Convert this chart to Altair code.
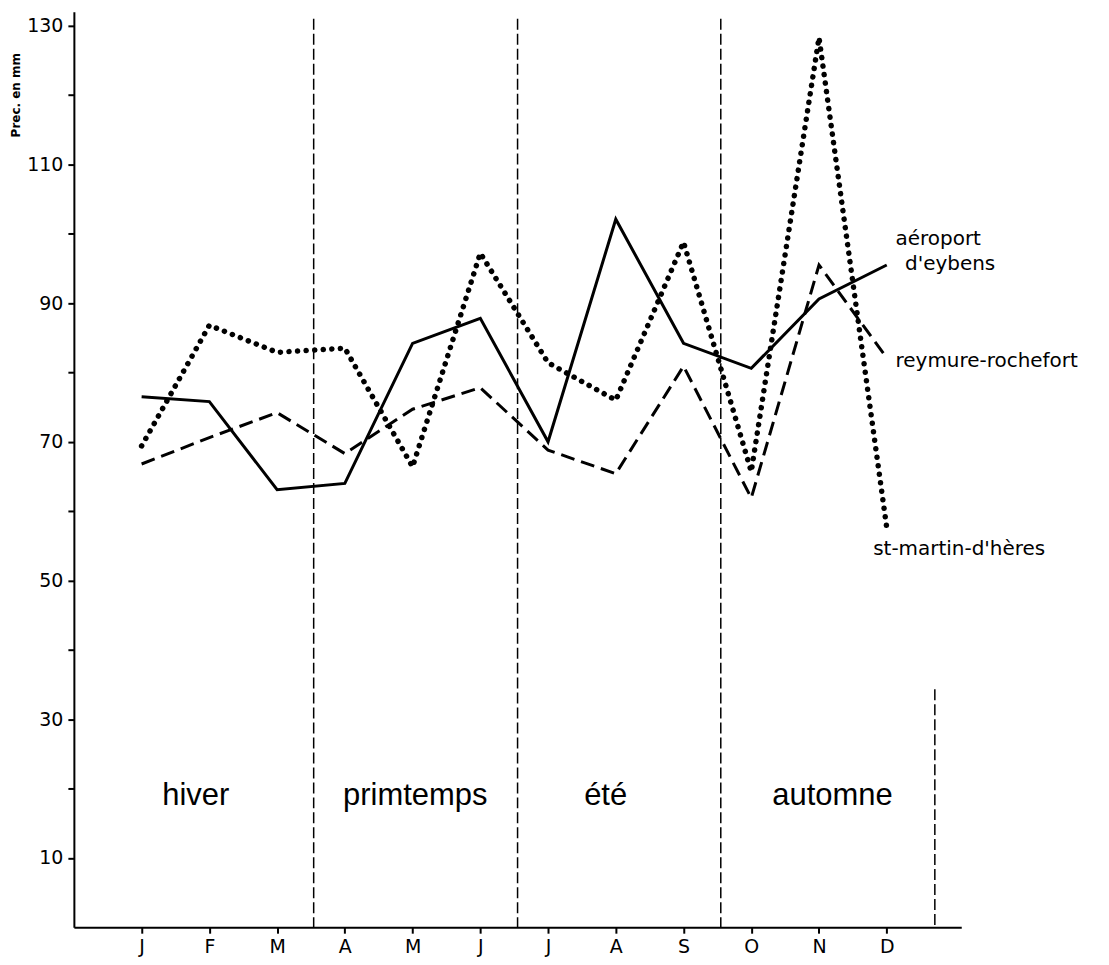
import altair as alt
import pandas as pd

# ---- data ----
months = ["J", "F", "M", "A", "M", "J", "J", "A", "S", "O", "N", "D"]
month_num = list(range(1, 13))
aeroport = [76.5, 75.8, 63.1, 64.0, 84.2, 87.8, 70.0, 102.1, 84.2, 80.6, 90.6, 95.5]
reymure = [66.8, 70.6, 74.2, 68.3, 74.7, 77.8, 68.8, 65.4, 80.9, 61.9, 95.5, 82.1]
stmartin = [69.4, 86.8, 82.9, 83.5, 66.4, 97.2, 81.4, 76.0, 98.8, 65.7, 128.3, 57.6]

season_names = ["hiver", "primtemps", "été", "automne"]
season_label_x = [1.8, 5.04, 7.85, 11.2]
season_label_y = [18.9, 18.9, 18.9, 18.9]
season_bounds = [3.54, 6.55, 9.55, 12.71]
season_bound_top = [131, 131, 131, 34.3]
season_bound_bottom = [0, 0, 0, 0]

line_label_text = ["aéroport", "d'eybens", "reymure-rochefort", "st-martin-d'hères"]
line_label_x = [12.13, 12.27, 12.13, 11.8]
line_label_y = [99.3, 95.6, 81.6, 54.5]

y_ticks = list(range(10, 131, 10))

# ---- tables ----
df = pd.DataFrame({
    "m": month_num * 3,
    "v": aeroport + reymure + stmartin,
    "s": ["aeroport"] * 12 + ["reymure"] * 12 + ["stmartin"] * 12,
})
bounds_df = pd.DataFrame({"m": season_bounds, "v": season_bound_top, "v2": season_bound_bottom})
seasons_df = pd.DataFrame({"m": season_label_x, "v": season_label_y, "t": season_names})
labels_df = pd.DataFrame({"m": line_label_x, "v": line_label_y, "t": line_label_text})

month_expr = "[" + ",".join("'%s'" % m for m in months) + "][datum.value - 1]"

X = alt.X(
    "m:Q",
    scale=alt.Scale(domain=[0, 13.1], nice=False, zero=False),
    axis=alt.Axis(
        values=month_num,
        labelExpr=month_expr,
        title=None,
        grid=False,
        tickSize=6,
        tickWidth=2,
        labelPadding=4,
        labelFontSize=19,
        labelFont="DejaVu Sans",
        labelColor="black",
        tickColor="black",
        domainColor="black",
        domainWidth=2,
    ),
)
Y = alt.Y(
    "v:Q",
    scale=alt.Scale(domain=[0, 132], nice=False, zero=True),
    axis=alt.Axis(
        values=y_ticks,
        labelExpr="datum.value % 20 == 10 ? datum.label : ''",
        title="Prec. en mm",
        titleFontSize=12,
        titleFont="DejaVu Sans",
        titleFontWeight="bold",
        titleAngle=270,
        titleX=-58,
        titleY=83,
        titleAlign="center",
        titleBaseline="middle",
        titleColor="black",
        grid=False,
        tickSize=6,
        tickWidth=2,
        labelPadding=5,
        labelFontSize=19,
        labelFont="DejaVu Sans",
        labelColor="black",
        tickColor="black",
        domainColor="black",
        domainWidth=2,
    ),
)

base = alt.Chart(df)

solid = base.transform_filter("datum.s == 'aeroport'").mark_line(
    color="black", strokeWidth=3, strokeJoin="miter"
).encode(x=X, y=Y)

dashed = base.transform_filter("datum.s == 'reymure'").mark_line(
    color="black", strokeWidth=3, strokeDash=[14, 7]
).encode(x=X, y=Y)

dotted = base.transform_filter("datum.s == 'stmartin'").mark_line(
    color="black", strokeWidth=5.5, strokeDash=[0.1, 8.5], strokeCap="round"
).encode(x=X, y=Y)

bounds = alt.Chart(bounds_df).mark_rule(
    color="black", strokeWidth=1.5, strokeDash=[11, 4]
).encode(x=X, y=Y, y2="v2:Q")

seasons = alt.Chart(seasons_df).mark_text(
    font="Liberation Sans", fontSize=31, color="black", align="center", baseline="middle"
).encode(x=X, y=Y, text="t:N")

labels = alt.Chart(labels_df).mark_text(
    font="DejaVu Sans", fontSize=20, color="black", align="left", baseline="middle"
).encode(x=X, y=Y, text="t:N")

chart = (
    alt.layer(bounds, solid, dashed, dotted, seasons, labels)
    .properties(
        width=889,
        height=917,
        autosize="none",
        padding={"left": 66, "top": 3, "right": 140, "bottom": 40},
    )
    .configure(background="white")
    .configure_view(strokeWidth=0, stroke="transparent")
)

chart.save("out.html", embed_options={"renderer": "svg", "actions": False})
